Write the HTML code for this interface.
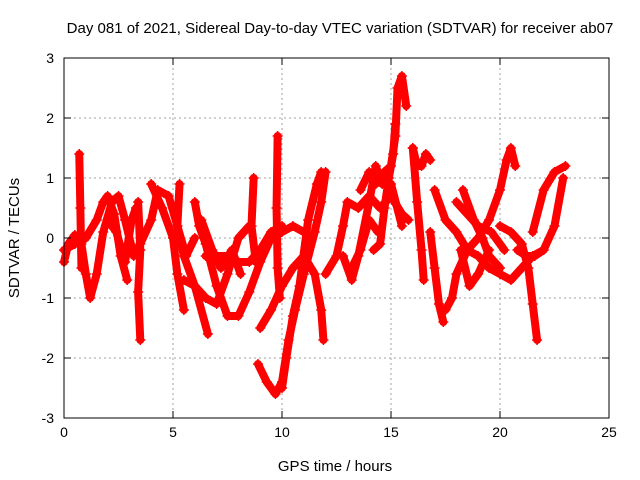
<!DOCTYPE html>
<html><head><meta charset="utf-8"><style>
body{margin:0;background:#fff}
svg{display:block;font-family:"Liberation Sans",sans-serif}
</style></head><body>
<svg id="chart" width="640" height="480" viewBox="0 0 640 480">
<text x="340" y="33" font-size="15" text-anchor="middle">Day 081 of 2021, Sidereal Day-to-day VTEC variation (SDTVAR) for receiver ab07</text>
<g id="grid"></g><g id="marks"></g><g id="axes"></g>
<text x="335" y="471" font-size="15" text-anchor="middle">GPS time / hours</text>
<text transform="translate(19,238) rotate(-90)" font-size="15" text-anchor="middle">SDTVAR / TECUs</text>
</svg>
<script>
const xTicks=[0,5,10,15,20,25];
const yTicks=[-3,-2,-1,0,1,2,3];
const trackA=[[0,-0.4],[0.2,-0.1],[0.5,0.05],[0.8,-0.1],[1.0,-0.6],[1.2,-1.0],[1.5,-0.6],[1.8,0.1],[2.2,0.6],[2.5,0.7],[2.8,0.3],[3.2,-0.3],[3.5,-0.1],[4,0.3],[4.3,0.8],[4.8,0.7],[5.2,0.2],[5.5,-0.3],[6.0,-0.8],[6.6,-1.6]];
const trackB=[[0,-0.2],[0.5,-0.1],[1.0,0],[1.5,0.3],[1.8,0.6],[2.0,0.7],[2.3,0.4],[2.6,-0.3],[2.9,-0.7]];
const trackC=[[0.7,1.4],[0.75,0.5],[0.8,-0.5]];
const trackD=[[3.4,0.6],[3.5,-0.2],[3.4,-0.9],[3.5,-1.7]];
const trackE=[[4.0,0.9],[4.5,0.5],[5.0,0],[5.2,-0.6],[5.5,-1.2]];
const trackF=[[5.3,0.9],[5.2,0.2],[5.6,-0.3],[6,0]];
const trackG=[[6.0,0.6],[6.2,0.2],[6.5,-0.1],[7,-0.8],[7.5,-1.3],[8,-1.3],[8.5,-0.9],[9,-0.4],[9.5,0],[10,0.1],[10.5,0.2],[11,0.1]];
const trackH=[[6.5,-0.3],[7,-0.3],[7.5,-0.3],[8,-0.4],[8.5,-0.4],[9,-0.2],[9.5,0.1],[10,0.2]];
const trackI=[[5.5,-0.7],[6,-0.8],[6.5,-1.0],[7,-1.1],[7.5,-0.6],[8,0],[8.5,0.2]];
const trackJ=[[8.7,1.0],[8.6,0.2],[8.8,-0.4],[9,-0.3]];
const trackK=[[9.8,1.7],[9.75,0.5],[9.8,-0.5],[9.9,-1.0]];
const trackL=[[9,-1.5],[9.5,-1.2],[10,-0.8],[10.5,-0.5],[11,-0.3],[11.5,-0.6],[11.8,-1.2],[11.9,-1.7]];
const trackM=[[8.9,-2.1],[9.3,-2.4],[9.7,-2.6],[10.0,-2.4],[10.3,-1.7],[10.6,-1.2],[11,-0.6],[11.5,0.1],[11.8,0.6],[12,1.1]];
const trackN=[[10.0,-2.5],[10.2,-2.0],[10.5,-1.3],[10.8,-0.8],[11.2,0.3],[11.6,0.9],[11.8,1.1]];
const trackO=[[12.0,-0.6],[12.5,-0.3],[12.8,0.2],[13.0,0.6],[13.5,0.5],[14,0.7],[14.5,0.5],[15,0.7],[15.5,0.4],[15.8,0.3]];
const trackP=[[12.8,-0.3],[13.2,-0.7],[13.5,-0.3],[14,0.6],[14.3,1.2],[14.6,0.9],[15,0.9],[15.5,0.2]];
const trackQ=[[13.6,0.8],[14,1.1],[14.3,0.9],[14.7,1.1],[15,1.2],[15.2,1.7],[15.3,2.5],[15.5,2.7],[15.7,2.2]];
const trackR=[[14.2,-0.2],[14.5,-0.1],[14.7,0.5],[14.9,1.0],[15.1,1.4],[15.2,1.9]];
const trackS=[[16.0,1.5],[16.2,0.6],[16.4,-0.2],[16.5,-0.7]];
const trackS2=[[16.0,1.5],[16.2,1.2],[16.4,1.2],[16.6,1.4],[16.8,1.3]];
const trackT=[[17,0.8],[17.5,0.3],[18,0.1],[18.5,-0.2],[19,-0.3],[19.5,-0.5],[20,-0.6],[20.5,-0.7],[21,-0.5],[21.5,-0.3],[22,-0.2]];
const trackU=[[17.5,-1.2],[17.8,-1.0],[18,-0.6],[18.5,-0.2],[19,0],[19.5,0.3],[20,0.8],[20.3,1.3],[20.5,1.5],[20.7,1.2]];
const trackV=[[18.3,0.8],[18.8,0.3],[19.2,0.0],[19.5,-0.3],[20,-0.5]];
const trackW=[[20,0.2],[20.5,0.1],[21,-0.1],[21.3,-0.5],[21.5,-1.1],[21.7,-1.7]];
const trackX=[[21.5,0.1],[22,0.8],[22.5,1.1],[23,1.2]];
const trackY=[[20.8,-0.2],[21.2,-0.3],[21.6,-0.3],[22,-0.2],[22.5,0.2],[22.9,1.0]];
const trackZ=[[16.8,0.1],[17,-0.5],[17.2,-1.1],[17.4,-1.4]];
const trackZ2=[[18.2,-0.2],[18.6,-0.8],[19,-0.6],[19.5,-0.2]];
const trackAA=[[2.0,0.3],[2.4,0.1],[2.8,-0.4],[3.1,0.3],[3.3,0.5]];
const trackAB=[[6.3,0.3],[6.8,-0.2],[7.2,-0.5],[7.7,-0.2],[8.1,-0.6]];
const trackAC=[[18.0,0.6],[18.5,0.4],[19.0,0.2],[19.6,0.1],[20.2,-0.2]];
const trackAD=[[13.2,-0.5],[13.6,-0.2],[14.0,0.3],[14.4,0.1]];
const tracks=[trackA,trackB,trackC,trackD,trackE,trackF,trackG,trackH,trackI,trackJ,trackK,trackL,trackM,trackN,trackO,trackP,trackQ,trackR,trackS,trackS2,trackT,trackU,trackV,trackW,trackX,trackY,trackZ,trackZ2,trackAA,trackAB,trackAC,trackAD];

const L=64,R=609,T=58,B=418;
const xs=v=>L+(v-0)/25*(R-L);
const ys=v=>B-(v+3)/6*(B-T);
const NS="http://www.w3.org/2000/svg";
function mk(tag,attrs,parent){const e=document.createElementNS(NS,tag);for(const k in attrs)e.setAttribute(k,attrs[k]);parent.appendChild(e);return e;}
const grid=document.getElementById('grid'),marks=document.getElementById('marks'),axes=document.getElementById('axes');
xTicks.forEach(t=>{
  const x=xs(t);
  if(t>0&&t<25){const g=mk('line',{x1:x,x2:x,y1:T,y2:B,stroke:'#a0a0a0','stroke-dasharray':'2,3'},grid);
  
  }
  mk('line',{x1:x,x2:x,y1:B,y2:B-7,stroke:'#000'},axes);
  mk('line',{x1:x,x2:x,y1:T,y2:T+7,stroke:'#000'},axes);
  const tx=mk('text',{x:x,y:B+19,'font-size':14,'text-anchor':'middle'},axes);tx.textContent=t;
  
  
});
yTicks.forEach(t=>{
  const y=ys(t);
  if(t>-3&&t<3){const g=mk('line',{x1:L,x2:R,y1:y,y2:y,stroke:'#a0a0a0','stroke-dasharray':'2,3'},grid);
  
  }
  mk('line',{x1:L,x2:L+7,y1:y,y2:y,stroke:'#000'},axes);
  mk('line',{x1:R,x2:R-7,y1:y,y2:y,stroke:'#000'},axes);
  const tx=mk('text',{x:L-10,y:y+5,'font-size':14,'text-anchor':'end'},axes);tx.textContent=t;
  
  
});
const frame=mk('rect',{x:L,y:T,width:R-L,height:B-T,fill:'none',stroke:'#000'},axes);


tracks.forEach(tr=>{
  const pl=mk('polyline',{points:tr.map(p=>xs(p[0])+','+ys(p[1])).join(' '),fill:'none',stroke:'#ff0000','stroke-width':8,'stroke-linejoin':'round','stroke-linecap':'round'},marks);
  
  
  tr.forEach(p=>{
    const x=xs(p[0]),y=ys(p[1]);
    const m=mk('path',{d:`M${x-5},${y}h10M${x},${y-5}v10`,stroke:'#ff0000','stroke-width':1.5},marks);
    
    
  });
});
</script>
</body></html>
